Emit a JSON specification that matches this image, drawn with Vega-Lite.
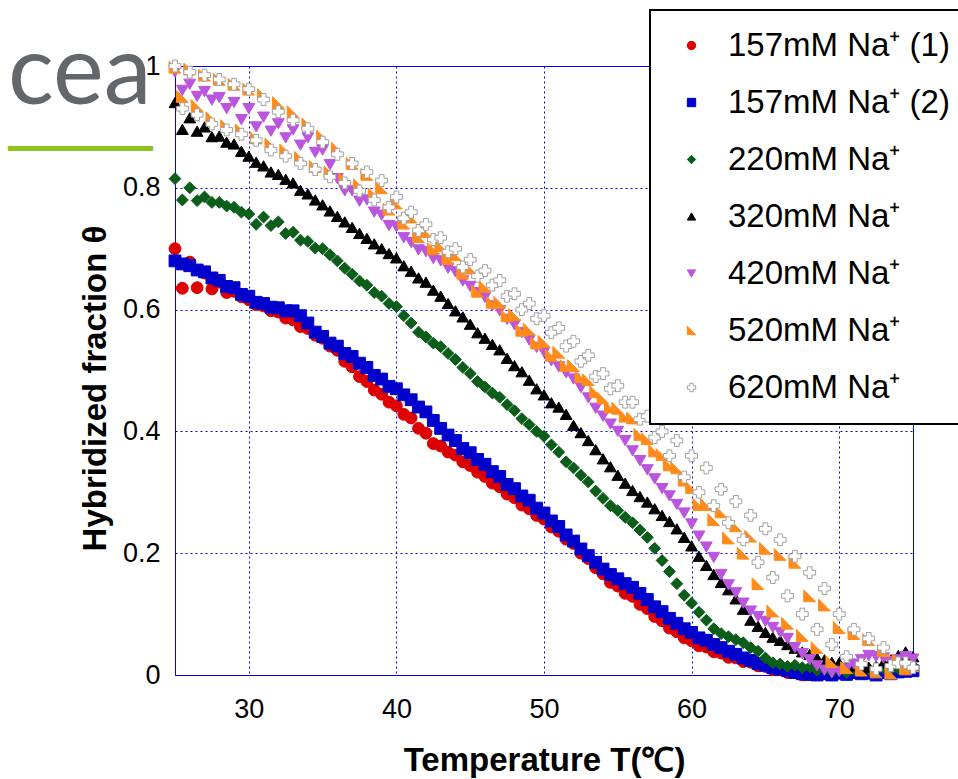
{
"$schema":"https://vega.github.io/schema/vega-lite/v6.json",
"autosize":"none",
"width":738,"height":609,
"padding":{"left":175,"top":66,"right":45,"bottom":104},
"background":"#ffffff",
"title":{"text":"cea","subtitle":"━━━━━━━━","anchor":"start","frame":"group","orient":"top","dx":-167,"dy":157,"offset":0,"fontSize":96,"font":"Lato","fontWeight":400,"color":"#63676b","subtitleColor":"#8dc21f","subtitleFontSize":30,"subtitleFont":"DejaVu Sans Mono","subtitlePadding":11},
"config":{
 "font":"Liberation Sans",
 "view":{"stroke":"#0000ff","strokeWidth":1},
 "axis":{"domain":false,"ticks":false,"grid":true,"gridColor":"#0000ee","gridDash":[2,3],"gridWidth":1,"labelFont":"Liberation Sans","labelFontSize":27,"labelColor":"#000000","titleFont":"Liberation Sans","titleFontSize":33,"titleFontWeight":"bold","titleColor":"#000000"},
 "legend":{"orient":"none","legendX":475,"legendY":-56,"strokeColor":"#000000","strokeWidth":2,"fillColor":"#ffffff","padding":19,"labelFont":"Liberation Sans","labelFontSize":33,"labelColor":"#000000","labelLimit":500,"rowPadding":23,"symbolSize":70,"symbolOffset":6,"labelOffset":20,"symbolStrokeWidth":1}
},
"data":{"values":[
{"s":"a","T":25,"v":0.700},{"s":"a","T":25.5,"v":0.635},{"s":"a","T":26,"v":0.678},{"s":"a","T":26.5,"v":0.636},{"s":"a","T":27,"v":0.660},{"s":"a","T":27.5,"v":0.634},{"s":"a","T":28,"v":0.645},{"s":"a","T":28.5,"v":0.628},{"s":"a","T":29,"v":0.630},{"s":"a","T":29.5,"v":0.621},
{"s":"a","T":30,"v":0.616},{"s":"a","T":30.5,"v":0.608},{"s":"a","T":31,"v":0.606},{"s":"a","T":31.5,"v":0.598},{"s":"a","T":32,"v":0.596},{"s":"a","T":32.5,"v":0.586},{"s":"a","T":33,"v":0.583},{"s":"a","T":33.5,"v":0.572},{"s":"a","T":34,"v":0.569},{"s":"a","T":34.5,"v":0.558},
{"s":"a","T":35,"v":0.553},{"s":"a","T":35.5,"v":0.540},{"s":"a","T":36,"v":0.533},{"s":"a","T":36.5,"v":0.515},{"s":"a","T":37,"v":0.506},{"s":"a","T":37.5,"v":0.490},{"s":"a","T":38,"v":0.482},{"s":"a","T":38.5,"v":0.468},{"s":"a","T":39,"v":0.461},{"s":"a","T":39.5,"v":0.448},
{"s":"a","T":40,"v":0.442},{"s":"a","T":40.5,"v":0.428},{"s":"a","T":41,"v":0.422},{"s":"a","T":41.5,"v":0.405},{"s":"a","T":42,"v":0.397},{"s":"a","T":42.5,"v":0.380},{"s":"a","T":43,"v":0.376},{"s":"a","T":43.5,"v":0.366},{"s":"a","T":44,"v":0.361},{"s":"a","T":44.5,"v":0.350},
{"s":"a","T":45,"v":0.344},{"s":"a","T":45.5,"v":0.333},{"s":"a","T":46,"v":0.326},{"s":"a","T":46.5,"v":0.315},{"s":"a","T":47,"v":0.309},{"s":"a","T":47.5,"v":0.297},{"s":"a","T":48,"v":0.291},{"s":"a","T":48.5,"v":0.279},{"s":"a","T":49,"v":0.273},{"s":"a","T":49.5,"v":0.262},
{"s":"a","T":50,"v":0.256},{"s":"a","T":50.5,"v":0.243},{"s":"a","T":51,"v":0.236},{"s":"a","T":51.5,"v":0.223},{"s":"a","T":52,"v":0.216},{"s":"a","T":52.5,"v":0.200},{"s":"a","T":53,"v":0.191},{"s":"a","T":53.5,"v":0.176},{"s":"a","T":54,"v":0.166},{"s":"a","T":54.5,"v":0.152},
{"s":"a","T":55,"v":0.146},{"s":"a","T":55.5,"v":0.134},{"s":"a","T":56,"v":0.129},{"s":"a","T":56.5,"v":0.116},{"s":"a","T":57,"v":0.109},{"s":"a","T":57.5,"v":0.096},{"s":"a","T":58,"v":0.089},{"s":"a","T":58.5,"v":0.077},{"s":"a","T":59,"v":0.071},{"s":"a","T":59.5,"v":0.061},
{"s":"a","T":60,"v":0.056},{"s":"a","T":60.5,"v":0.048},{"s":"a","T":61,"v":0.046},{"s":"a","T":61.5,"v":0.038},{"s":"a","T":62,"v":0.036},{"s":"a","T":62.5,"v":0.029},{"s":"a","T":63,"v":0.028},{"s":"a","T":63.5,"v":0.022},{"s":"a","T":64,"v":0.021},{"s":"a","T":64.5,"v":0.015},
{"s":"a","T":65,"v":0.014},{"s":"a","T":65.5,"v":0.009},{"s":"a","T":66,"v":0.009},{"s":"a","T":66.5,"v":0.004},{"s":"a","T":67,"v":0.004},{"s":"a","T":67.5,"v":0.000},{"s":"a","T":68,"v":0.001},
{"s":"b","T":25,"v":0.680},{"s":"b","T":25.5,"v":0.675},{"s":"b","T":26,"v":0.672},{"s":"b","T":26.5,"v":0.665},{"s":"b","T":27,"v":0.662},{"s":"b","T":27.5,"v":0.652},{"s":"b","T":28,"v":0.648},{"s":"b","T":28.5,"v":0.638},{"s":"b","T":29,"v":0.636},{"s":"b","T":29.5,"v":0.625},
{"s":"b","T":30,"v":0.622},{"s":"b","T":30.5,"v":0.612},{"s":"b","T":31,"v":0.610},{"s":"b","T":31.5,"v":0.604},{"s":"b","T":32,"v":0.603},{"s":"b","T":32.5,"v":0.598},{"s":"b","T":33,"v":0.598},{"s":"b","T":33.5,"v":0.590},{"s":"b","T":34,"v":0.578},{"s":"b","T":34.5,"v":0.563},
{"s":"b","T":35,"v":0.556},{"s":"b","T":35.5,"v":0.545},{"s":"b","T":36,"v":0.540},{"s":"b","T":36.5,"v":0.528},{"s":"b","T":37,"v":0.523},{"s":"b","T":37.5,"v":0.512},{"s":"b","T":38,"v":0.505},{"s":"b","T":38.5,"v":0.492},{"s":"b","T":39,"v":0.486},{"s":"b","T":39.5,"v":0.474},
{"s":"b","T":40,"v":0.470},{"s":"b","T":40.5,"v":0.460},{"s":"b","T":41,"v":0.452},{"s":"b","T":41.5,"v":0.440},{"s":"b","T":42,"v":0.432},{"s":"b","T":42.5,"v":0.418},{"s":"b","T":43,"v":0.405},{"s":"b","T":43.5,"v":0.394},{"s":"b","T":44,"v":0.385},{"s":"b","T":44.5,"v":0.372},
{"s":"b","T":45,"v":0.365},{"s":"b","T":45.5,"v":0.354},{"s":"b","T":46,"v":0.346},{"s":"b","T":46.5,"v":0.334},{"s":"b","T":47,"v":0.326},{"s":"b","T":47.5,"v":0.313},{"s":"b","T":48,"v":0.306},{"s":"b","T":48.5,"v":0.294},{"s":"b","T":49,"v":0.287},{"s":"b","T":49.5,"v":0.274},
{"s":"b","T":50,"v":0.266},{"s":"b","T":50.5,"v":0.253},{"s":"b","T":51,"v":0.244},{"s":"b","T":51.5,"v":0.230},{"s":"b","T":52,"v":0.220},{"s":"b","T":52.5,"v":0.207},{"s":"b","T":53,"v":0.196},{"s":"b","T":53.5,"v":0.185},{"s":"b","T":54,"v":0.174},{"s":"b","T":54.5,"v":0.165},
{"s":"b","T":55,"v":0.158},{"s":"b","T":55.5,"v":0.150},{"s":"b","T":56,"v":0.144},{"s":"b","T":56.5,"v":0.134},{"s":"b","T":57,"v":0.124},{"s":"b","T":57.5,"v":0.112},{"s":"b","T":58,"v":0.104},{"s":"b","T":58.5,"v":0.093},{"s":"b","T":59,"v":0.085},{"s":"b","T":59.5,"v":0.076},
{"s":"b","T":60,"v":0.070},{"s":"b","T":60.5,"v":0.061},{"s":"b","T":61,"v":0.057},{"s":"b","T":61.5,"v":0.050},{"s":"b","T":62,"v":0.045},{"s":"b","T":62.5,"v":0.039},{"s":"b","T":63,"v":0.034},{"s":"b","T":63.5,"v":0.028},{"s":"b","T":64,"v":0.024},{"s":"b","T":64.5,"v":0.019},
{"s":"b","T":65,"v":0.016},{"s":"b","T":65.5,"v":0.012},{"s":"b","T":66,"v":0.010},{"s":"b","T":66.5,"v":0.007},{"s":"b","T":67,"v":0.004},{"s":"b","T":67.5,"v":0.002},{"s":"b","T":68,"v":0.001},{"s":"b","T":68.5,"v":0.000},{"s":"b","T":69,"v":0.002},{"s":"b","T":69.5,"v":0.000},
{"s":"b","T":70,"v":0.003},{"s":"b","T":70.5,"v":0.001},{"s":"b","T":71,"v":0.004},{"s":"b","T":71.5,"v":0.002},{"s":"b","T":72,"v":0.003},{"s":"b","T":72.5,"v":0.000},{"s":"b","T":73,"v":0.004},{"s":"b","T":73.5,"v":0.002},{"s":"b","T":74,"v":0.005},{"s":"b","T":74.5,"v":0.006},{"s":"b","T":75,"v":0.007},
{"s":"c","T":25,"v":0.815},{"s":"c","T":25.5,"v":0.780},{"s":"c","T":26,"v":0.800},{"s":"c","T":26.5,"v":0.779},{"s":"c","T":27,"v":0.785},{"s":"c","T":27.5,"v":0.776},{"s":"c","T":28,"v":0.776},{"s":"c","T":28.5,"v":0.770},{"s":"c","T":29,"v":0.768},{"s":"c","T":29.5,"v":0.760},
{"s":"c","T":30,"v":0.757},{"s":"c","T":30.5,"v":0.740},{"s":"c","T":31,"v":0.752},{"s":"c","T":31.5,"v":0.738},{"s":"c","T":32,"v":0.744},{"s":"c","T":32.5,"v":0.725},{"s":"c","T":33,"v":0.727},{"s":"c","T":33.5,"v":0.714},{"s":"c","T":34,"v":0.712},{"s":"c","T":34.5,"v":0.701},
{"s":"c","T":35,"v":0.700},{"s":"c","T":35.5,"v":0.690},{"s":"c","T":36,"v":0.680},{"s":"c","T":36.5,"v":0.668},{"s":"c","T":37,"v":0.658},{"s":"c","T":37.5,"v":0.647},{"s":"c","T":38,"v":0.640},{"s":"c","T":38.5,"v":0.628},{"s":"c","T":39,"v":0.622},{"s":"c","T":39.5,"v":0.610},
{"s":"c","T":40,"v":0.605},{"s":"c","T":40.5,"v":0.590},{"s":"c","T":41,"v":0.578},{"s":"c","T":41.5,"v":0.563},{"s":"c","T":42,"v":0.555},{"s":"c","T":42.5,"v":0.545},{"s":"c","T":43,"v":0.539},{"s":"c","T":43.5,"v":0.528},{"s":"c","T":44,"v":0.518},{"s":"c","T":44.5,"v":0.505},
{"s":"c","T":45,"v":0.495},{"s":"c","T":45.5,"v":0.482},{"s":"c","T":46,"v":0.473},{"s":"c","T":46.5,"v":0.463},{"s":"c","T":47,"v":0.456},{"s":"c","T":47.5,"v":0.444},{"s":"c","T":48,"v":0.434},{"s":"c","T":48.5,"v":0.421},{"s":"c","T":49,"v":0.411},{"s":"c","T":49.5,"v":0.400},
{"s":"c","T":50,"v":0.392},{"s":"c","T":50.5,"v":0.378},{"s":"c","T":51,"v":0.366},{"s":"c","T":51.5,"v":0.350},{"s":"c","T":52,"v":0.340},{"s":"c","T":52.5,"v":0.328},{"s":"c","T":53,"v":0.317},{"s":"c","T":53.5,"v":0.302},{"s":"c","T":54,"v":0.290},{"s":"c","T":54.5,"v":0.278},
{"s":"c","T":55,"v":0.270},{"s":"c","T":55.5,"v":0.259},{"s":"c","T":56,"v":0.250},{"s":"c","T":56.5,"v":0.238},{"s":"c","T":57,"v":0.226},{"s":"c","T":57.5,"v":0.208},{"s":"c","T":58,"v":0.188},{"s":"c","T":58.5,"v":0.170},{"s":"c","T":59,"v":0.150},{"s":"c","T":59.5,"v":0.131},
{"s":"c","T":60,"v":0.118},{"s":"c","T":60.5,"v":0.103},{"s":"c","T":61,"v":0.090},{"s":"c","T":61.5,"v":0.076},{"s":"c","T":62,"v":0.068},{"s":"c","T":62.5,"v":0.063},{"s":"c","T":63,"v":0.058},{"s":"c","T":63.5,"v":0.053},{"s":"c","T":64,"v":0.045},{"s":"c","T":64.5,"v":0.039},
{"s":"c","T":65,"v":0.028},{"s":"c","T":65.5,"v":0.020},{"s":"c","T":66,"v":0.018},{"s":"c","T":66.5,"v":0.014},{"s":"c","T":67,"v":0.016},{"s":"c","T":67.5,"v":0.012},{"s":"c","T":68,"v":0.013},{"s":"c","T":68.5,"v":0.008},{"s":"c","T":69,"v":0.010},{"s":"c","T":69.5,"v":0.005},
{"s":"c","T":70,"v":0.008},{"s":"c","T":70.5,"v":0.004},{"s":"c","T":71,"v":0.009},{"s":"c","T":71.5,"v":0.006},{"s":"c","T":72,"v":0.010},{"s":"c","T":72.5,"v":0.007},{"s":"c","T":73,"v":0.012},{"s":"c","T":73.5,"v":0.009},{"s":"c","T":74,"v":0.011},{"s":"c","T":74.5,"v":0.013},{"s":"c","T":75,"v":0.015},
{"s":"d","T":25,"v":0.940},{"s":"d","T":25.5,"v":0.896},{"s":"d","T":26,"v":0.915},{"s":"d","T":26.5,"v":0.893},{"s":"d","T":27,"v":0.900},{"s":"d","T":27.5,"v":0.884},{"s":"d","T":28,"v":0.885},{"s":"d","T":28.5,"v":0.875},{"s":"d","T":29,"v":0.872},{"s":"d","T":29.5,"v":0.860},
{"s":"d","T":30,"v":0.852},{"s":"d","T":30.5,"v":0.842},{"s":"d","T":31,"v":0.836},{"s":"d","T":31.5,"v":0.826},{"s":"d","T":32,"v":0.822},{"s":"d","T":32.5,"v":0.814},{"s":"d","T":33,"v":0.808},{"s":"d","T":33.5,"v":0.796},{"s":"d","T":34,"v":0.790},{"s":"d","T":34.5,"v":0.780},
{"s":"d","T":35,"v":0.772},{"s":"d","T":35.5,"v":0.762},{"s":"d","T":36,"v":0.753},{"s":"d","T":36.5,"v":0.744},{"s":"d","T":37,"v":0.735},{"s":"d","T":37.5,"v":0.725},{"s":"d","T":38,"v":0.717},{"s":"d","T":38.5,"v":0.708},{"s":"d","T":39,"v":0.700},{"s":"d","T":39.5,"v":0.692},
{"s":"d","T":40,"v":0.685},{"s":"d","T":40.5,"v":0.672},{"s":"d","T":41,"v":0.663},{"s":"d","T":41.5,"v":0.652},{"s":"d","T":42,"v":0.645},{"s":"d","T":42.5,"v":0.632},{"s":"d","T":43,"v":0.622},{"s":"d","T":43.5,"v":0.610},{"s":"d","T":44,"v":0.598},{"s":"d","T":44.5,"v":0.588},
{"s":"d","T":45,"v":0.576},{"s":"d","T":45.5,"v":0.562},{"s":"d","T":46,"v":0.553},{"s":"d","T":46.5,"v":0.543},{"s":"d","T":47,"v":0.534},{"s":"d","T":47.5,"v":0.520},{"s":"d","T":48,"v":0.508},{"s":"d","T":48.5,"v":0.498},{"s":"d","T":49,"v":0.484},{"s":"d","T":49.5,"v":0.470},
{"s":"d","T":50,"v":0.460},{"s":"d","T":50.5,"v":0.447},{"s":"d","T":51,"v":0.440},{"s":"d","T":51.5,"v":0.428},{"s":"d","T":52,"v":0.410},{"s":"d","T":52.5,"v":0.398},{"s":"d","T":53,"v":0.385},{"s":"d","T":53.5,"v":0.370},{"s":"d","T":54,"v":0.355},{"s":"d","T":54.5,"v":0.342},
{"s":"d","T":55,"v":0.328},{"s":"d","T":55.5,"v":0.315},{"s":"d","T":56,"v":0.303},{"s":"d","T":56.5,"v":0.293},{"s":"d","T":57,"v":0.284},{"s":"d","T":57.5,"v":0.273},{"s":"d","T":58,"v":0.262},{"s":"d","T":58.5,"v":0.252},{"s":"d","T":59,"v":0.240},{"s":"d","T":59.5,"v":0.226},
{"s":"d","T":60,"v":0.212},{"s":"d","T":60.5,"v":0.195},{"s":"d","T":61,"v":0.180},{"s":"d","T":61.5,"v":0.165},{"s":"d","T":62,"v":0.152},{"s":"d","T":62.5,"v":0.140},{"s":"d","T":63,"v":0.125},{"s":"d","T":63.5,"v":0.108},{"s":"d","T":64,"v":0.090},{"s":"d","T":64.5,"v":0.080},
{"s":"d","T":65,"v":0.070},{"s":"d","T":65.5,"v":0.062},{"s":"d","T":66,"v":0.057},{"s":"d","T":66.5,"v":0.050},{"s":"d","T":67,"v":0.044},{"s":"d","T":67.5,"v":0.038},{"s":"d","T":68,"v":0.034},{"s":"d","T":68.5,"v":0.028},{"s":"d","T":69,"v":0.025},{"s":"d","T":69.5,"v":0.021},
{"s":"d","T":70,"v":0.020},{"s":"d","T":70.5,"v":0.016},{"s":"d","T":71,"v":0.015},{"s":"d","T":71.5,"v":0.012},{"s":"d","T":72,"v":0.013},{"s":"d","T":72.5,"v":0.015},{"s":"d","T":73,"v":0.020},{"s":"d","T":73.5,"v":0.025},{"s":"d","T":74,"v":0.032},{"s":"d","T":74.5,"v":0.038},{"s":"d","T":75,"v":0.030},
{"s":"e","T":25,"v":0.990},{"s":"e","T":25.5,"v":0.960},{"s":"e","T":26,"v":0.970},{"s":"e","T":26.5,"v":0.950},{"s":"e","T":27,"v":0.958},{"s":"e","T":27.5,"v":0.944},{"s":"e","T":28,"v":0.948},{"s":"e","T":28.5,"v":0.930},{"s":"e","T":29,"v":0.940},{"s":"e","T":29.5,"v":0.912},
{"s":"e","T":30,"v":0.930},{"s":"e","T":30.5,"v":0.900},{"s":"e","T":31,"v":0.916},{"s":"e","T":31.5,"v":0.893},{"s":"e","T":32,"v":0.905},{"s":"e","T":32.5,"v":0.882},{"s":"e","T":33,"v":0.895},{"s":"e","T":33.5,"v":0.870},{"s":"e","T":34,"v":0.882},{"s":"e","T":34.5,"v":0.858},
{"s":"e","T":35,"v":0.862},{"s":"e","T":35.5,"v":0.838},{"s":"e","T":36,"v":0.815},{"s":"e","T":36.5,"v":0.795},{"s":"e","T":37,"v":0.795},{"s":"e","T":37.5,"v":0.778},{"s":"e","T":38,"v":0.780},{"s":"e","T":38.5,"v":0.760},{"s":"e","T":39,"v":0.755},{"s":"e","T":39.5,"v":0.738},
{"s":"e","T":40,"v":0.736},{"s":"e","T":40.5,"v":0.718},{"s":"e","T":41,"v":0.710},{"s":"e","T":41.5,"v":0.698},{"s":"e","T":42,"v":0.695},{"s":"e","T":42.5,"v":0.684},{"s":"e","T":43,"v":0.680},{"s":"e","T":43.5,"v":0.668},{"s":"e","T":44,"v":0.662},{"s":"e","T":44.5,"v":0.647},
{"s":"e","T":45,"v":0.638},{"s":"e","T":45.5,"v":0.628},{"s":"e","T":46,"v":0.620},{"s":"e","T":46.5,"v":0.606},{"s":"e","T":47,"v":0.598},{"s":"e","T":47.5,"v":0.584},{"s":"e","T":48,"v":0.575},{"s":"e","T":48.5,"v":0.562},{"s":"e","T":49,"v":0.550},{"s":"e","T":49.5,"v":0.538},
{"s":"e","T":50,"v":0.530},{"s":"e","T":50.5,"v":0.516},{"s":"e","T":51,"v":0.506},{"s":"e","T":51.5,"v":0.496},{"s":"e","T":52,"v":0.486},{"s":"e","T":52.5,"v":0.472},{"s":"e","T":53,"v":0.455},{"s":"e","T":53.5,"v":0.438},{"s":"e","T":54,"v":0.425},{"s":"e","T":54.5,"v":0.412},
{"s":"e","T":55,"v":0.400},{"s":"e","T":55.5,"v":0.385},{"s":"e","T":56,"v":0.368},{"s":"e","T":56.5,"v":0.352},{"s":"e","T":57,"v":0.337},{"s":"e","T":57.5,"v":0.322},{"s":"e","T":58,"v":0.306},{"s":"e","T":58.5,"v":0.294},{"s":"e","T":59,"v":0.280},{"s":"e","T":59.5,"v":0.266},
{"s":"e","T":60,"v":0.248},{"s":"e","T":60.5,"v":0.228},{"s":"e","T":61,"v":0.210},{"s":"e","T":61.5,"v":0.193},{"s":"e","T":62,"v":0.165},{"s":"e","T":62.5,"v":0.148},{"s":"e","T":63,"v":0.135},{"s":"e","T":63.5,"v":0.118},{"s":"e","T":64,"v":0.105},{"s":"e","T":64.5,"v":0.096},
{"s":"e","T":65,"v":0.088},{"s":"e","T":65.5,"v":0.078},{"s":"e","T":66,"v":0.070},{"s":"e","T":66.5,"v":0.060},{"s":"e","T":67,"v":0.045},{"s":"e","T":67.5,"v":0.035},{"s":"e","T":68,"v":0.025},{"s":"e","T":68.5,"v":0.015},{"s":"e","T":69,"v":0.008},{"s":"e","T":69.5,"v":0.004},
{"s":"e","T":70,"v":0.006},{"s":"e","T":70.5,"v":0.010},{"s":"e","T":71,"v":0.018},{"s":"e","T":71.5,"v":0.025},{"s":"e","T":72,"v":0.032},{"s":"e","T":72.5,"v":0.030},{"s":"e","T":73,"v":0.028},{"s":"e","T":73.5,"v":0.022},{"s":"e","T":74,"v":0.025},{"s":"e","T":74.5,"v":0.030},{"s":"e","T":75,"v":0.026},
{"s":"f","T":25,"v":0.998},{"s":"f","T":25.5,"v":0.950},{"s":"f","T":26,"v":0.995},{"s":"f","T":26.5,"v":0.935},{"s":"f","T":27,"v":0.985},{"s":"f","T":27.5,"v":0.915},{"s":"f","T":28,"v":0.978},{"s":"f","T":28.5,"v":0.902},{"s":"f","T":29,"v":0.970},{"s":"f","T":29.5,"v":0.895},
{"s":"f","T":30,"v":0.962},{"s":"f","T":30.5,"v":0.882},{"s":"f","T":31,"v":0.953},{"s":"f","T":31.5,"v":0.872},{"s":"f","T":32,"v":0.940},{"s":"f","T":32.5,"v":0.862},{"s":"f","T":33,"v":0.925},{"s":"f","T":33.5,"v":0.850},{"s":"f","T":34,"v":0.905},{"s":"f","T":34.5,"v":0.835},
{"s":"f","T":35,"v":0.885},{"s":"f","T":35.5,"v":0.826},{"s":"f","T":36,"v":0.865},{"s":"f","T":36.5,"v":0.815},{"s":"f","T":37,"v":0.840},{"s":"f","T":37.5,"v":0.805},{"s":"f","T":38,"v":0.822},{"s":"f","T":38.5,"v":0.790},{"s":"f","T":39,"v":0.800},{"s":"f","T":39.5,"v":0.765},
{"s":"f","T":40,"v":0.775},{"s":"f","T":40.5,"v":0.742},{"s":"f","T":41,"v":0.752},{"s":"f","T":41.5,"v":0.720},{"s":"f","T":42,"v":0.728},{"s":"f","T":42.5,"v":0.700},{"s":"f","T":43,"v":0.705},{"s":"f","T":43.5,"v":0.684},{"s":"f","T":44,"v":0.690},{"s":"f","T":44.5,"v":0.660},
{"s":"f","T":45,"v":0.668},{"s":"f","T":45.5,"v":0.630},{"s":"f","T":46,"v":0.638},{"s":"f","T":46.5,"v":0.612},{"s":"f","T":47,"v":0.612},{"s":"f","T":47.5,"v":0.590},{"s":"f","T":48,"v":0.592},{"s":"f","T":48.5,"v":0.566},{"s":"f","T":49,"v":0.568},{"s":"f","T":49.5,"v":0.545},
{"s":"f","T":50,"v":0.548},{"s":"f","T":50.5,"v":0.525},{"s":"f","T":51,"v":0.530},{"s":"f","T":51.5,"v":0.508},{"s":"f","T":52,"v":0.508},{"s":"f","T":52.5,"v":0.490},{"s":"f","T":53,"v":0.485},{"s":"f","T":53.5,"v":0.465},{"s":"f","T":54,"v":0.455},{"s":"f","T":54.5,"v":0.440},
{"s":"f","T":55,"v":0.438},{"s":"f","T":55.5,"v":0.425},{"s":"f","T":56,"v":0.422},{"s":"f","T":56.5,"v":0.395},{"s":"f","T":57,"v":0.388},{"s":"f","T":57.5,"v":0.368},{"s":"f","T":58,"v":0.362},{"s":"f","T":58.5,"v":0.345},{"s":"f","T":59,"v":0.340},{"s":"f","T":59.5,"v":0.320},
{"s":"f","T":60,"v":0.308},{"s":"f","T":60.5,"v":0.280},{"s":"f","T":61,"v":0.280},{"s":"f","T":61.5,"v":0.255},{"s":"f","T":62,"v":0.268},{"s":"f","T":62.5,"v":0.225},{"s":"f","T":63,"v":0.245},{"s":"f","T":63.5,"v":0.200},{"s":"f","T":64,"v":0.228},{"s":"f","T":64.5,"v":0.150},
{"s":"f","T":65,"v":0.208},{"s":"f","T":65.5,"v":0.105},{"s":"f","T":66,"v":0.198},{"s":"f","T":66.5,"v":0.085},{"s":"f","T":67,"v":0.185},{"s":"f","T":67.5,"v":0.065},{"s":"f","T":68,"v":0.130},{"s":"f","T":68.5,"v":0.045},{"s":"f","T":69,"v":0.115},{"s":"f","T":69.5,"v":0.022},
{"s":"f","T":70,"v":0.078},{"s":"f","T":70.5,"v":0.012},{"s":"f","T":71,"v":0.068},{"s":"f","T":71.5,"v":0.008},{"s":"f","T":72,"v":0.058},{"s":"f","T":72.5,"v":0.005},{"s":"f","T":73,"v":0.040},{"s":"f","T":73.5,"v":0.003},{"s":"f","T":74,"v":0.025},{"s":"f","T":74.5,"v":0.010},{"s":"f","T":75,"v":0.015},
{"s":"g","T":25,"v":1.000},{"s":"g","T":25.5,"v":0.930},{"s":"g","T":26,"v":0.990},{"s":"g","T":26.5,"v":0.920},{"s":"g","T":27,"v":0.985},{"s":"g","T":27.5,"v":0.905},{"s":"g","T":28,"v":0.978},{"s":"g","T":28.5,"v":0.895},{"s":"g","T":29,"v":0.970},{"s":"g","T":29.5,"v":0.888},
{"s":"g","T":30,"v":0.962},{"s":"g","T":30.5,"v":0.878},{"s":"g","T":31,"v":0.945},{"s":"g","T":31.5,"v":0.862},{"s":"g","T":32,"v":0.925},{"s":"g","T":32.5,"v":0.852},{"s":"g","T":33,"v":0.911},{"s":"g","T":33.5,"v":0.840},{"s":"g","T":34,"v":0.897},{"s":"g","T":34.5,"v":0.830},
{"s":"g","T":35,"v":0.875},{"s":"g","T":35.5,"v":0.818},{"s":"g","T":36,"v":0.855},{"s":"g","T":36.5,"v":0.808},{"s":"g","T":37,"v":0.840},{"s":"g","T":37.5,"v":0.795},{"s":"g","T":38,"v":0.826},{"s":"g","T":38.5,"v":0.780},{"s":"g","T":39,"v":0.812},{"s":"g","T":39.5,"v":0.768},
{"s":"g","T":40,"v":0.785},{"s":"g","T":40.5,"v":0.750},{"s":"g","T":41,"v":0.760},{"s":"g","T":41.5,"v":0.730},{"s":"g","T":42,"v":0.740},{"s":"g","T":42.5,"v":0.715},{"s":"g","T":43,"v":0.718},{"s":"g","T":43.5,"v":0.695},{"s":"g","T":44,"v":0.700},{"s":"g","T":44.5,"v":0.670},
{"s":"g","T":45,"v":0.682},{"s":"g","T":45.5,"v":0.655},{"s":"g","T":46,"v":0.664},{"s":"g","T":46.5,"v":0.640},{"s":"g","T":47,"v":0.648},{"s":"g","T":47.5,"v":0.622},{"s":"g","T":48,"v":0.626},{"s":"g","T":48.5,"v":0.600},{"s":"g","T":49,"v":0.610},{"s":"g","T":49.5,"v":0.585},
{"s":"g","T":50,"v":0.590},{"s":"g","T":50.5,"v":0.562},{"s":"g","T":51,"v":0.570},{"s":"g","T":51.5,"v":0.540},{"s":"g","T":52,"v":0.548},{"s":"g","T":52.5,"v":0.515},{"s":"g","T":53,"v":0.525},{"s":"g","T":53.5,"v":0.490},{"s":"g","T":54,"v":0.495},{"s":"g","T":54.5,"v":0.470},
{"s":"g","T":55,"v":0.475},{"s":"g","T":55.5,"v":0.448},{"s":"g","T":56,"v":0.448},{"s":"g","T":56.5,"v":0.420},{"s":"g","T":57,"v":0.425},{"s":"g","T":57.5,"v":0.390},{"s":"g","T":58,"v":0.400},{"s":"g","T":58.5,"v":0.360},{"s":"g","T":59,"v":0.385},{"s":"g","T":59.5,"v":0.325},
{"s":"g","T":60,"v":0.360},{"s":"g","T":60.5,"v":0.300},{"s":"g","T":61,"v":0.340},{"s":"g","T":61.5,"v":0.278},{"s":"g","T":62,"v":0.305},{"s":"g","T":62.5,"v":0.250},{"s":"g","T":63,"v":0.285},{"s":"g","T":63.5,"v":0.222},{"s":"g","T":64,"v":0.262},{"s":"g","T":64.5,"v":0.185},
{"s":"g","T":65,"v":0.240},{"s":"g","T":65.5,"v":0.160},{"s":"g","T":66,"v":0.222},{"s":"g","T":66.5,"v":0.130},{"s":"g","T":67,"v":0.195},{"s":"g","T":67.5,"v":0.100},{"s":"g","T":68,"v":0.168},{"s":"g","T":68.5,"v":0.075},{"s":"g","T":69,"v":0.142},{"s":"g","T":69.5,"v":0.050},
{"s":"g","T":70,"v":0.100},{"s":"g","T":70.5,"v":0.030},{"s":"g","T":71,"v":0.075},{"s":"g","T":71.5,"v":0.018},{"s":"g","T":72,"v":0.060},{"s":"g","T":72.5,"v":0.010},{"s":"g","T":73,"v":0.045},{"s":"g","T":73.5,"v":0.015},{"s":"g","T":74,"v":0.020},{"s":"g","T":74.5,"v":0.020},{"s":"g","T":75,"v":0.012}
]},
"mark":{"type":"point","filled":true,"size":140,"strokeWidth":1,"opacity":1},
"encoding":{
 "x":{"field":"T","type":"quantitative","scale":{"domain":[25,75],"nice":false,"zero":false},"axis":{"values":[30,40,50,60,70],"labelPadding":21,"title":"Temperature T(℃)","titlePadding":22}},
 "y":{"field":"v","type":"quantitative","scale":{"domain":[0,1],"nice":false},"axis":{"values":[0,0.2,0.4,0.6,0.8,1],"format":"~g","labelPadding":15,"title":"Hybridized fraction θ","titlePadding":10,"titleY":322}},
 "fill":{"field":"s","type":"nominal","scale":{"domain":["a","b","c","d","e","f","g"],"range":["#dd0000","#0000cc","#0b5e1a","#000000","#bb55dd","#ff8c1a","#ffffff"]},"legend":{"title":null,"labelExpr":"datum.value=='a'?'157mM Na⁺ (1)':datum.value=='b'?'157mM Na⁺ (2)':datum.value=='c'?'220mM Na⁺':datum.value=='d'?'320mM Na⁺':datum.value=='e'?'420mM Na⁺':datum.value=='f'?'520mM Na⁺':'620mM Na⁺'"}},
 "stroke":{"field":"s","type":"nominal","scale":{"domain":["a","b","c","d","e","f","g"],"range":["#dd0000","#0000cc","#0b5e1a","#000000","#bb55dd","#ff8c1a","#a0a0a0"]},"legend":{"title":null,"labelExpr":"datum.value=='a'?'157mM Na⁺ (1)':datum.value=='b'?'157mM Na⁺ (2)':datum.value=='c'?'220mM Na⁺':datum.value=='d'?'320mM Na⁺':datum.value=='e'?'420mM Na⁺':datum.value=='f'?'520mM Na⁺':'620mM Na⁺'"}},
 "shape":{"field":"s","type":"nominal","scale":{"domain":["a","b","c","d","e","f","g"],"range":["circle","square","diamond","triangle-up","triangle-down","M-1,-1L1,1L-1,1Z","cross"]},"legend":{"title":null,"labelExpr":"datum.value=='a'?'157mM Na⁺ (1)':datum.value=='b'?'157mM Na⁺ (2)':datum.value=='c'?'220mM Na⁺':datum.value=='d'?'320mM Na⁺':datum.value=='e'?'420mM Na⁺':datum.value=='f'?'520mM Na⁺':'620mM Na⁺'"}}
}
}
